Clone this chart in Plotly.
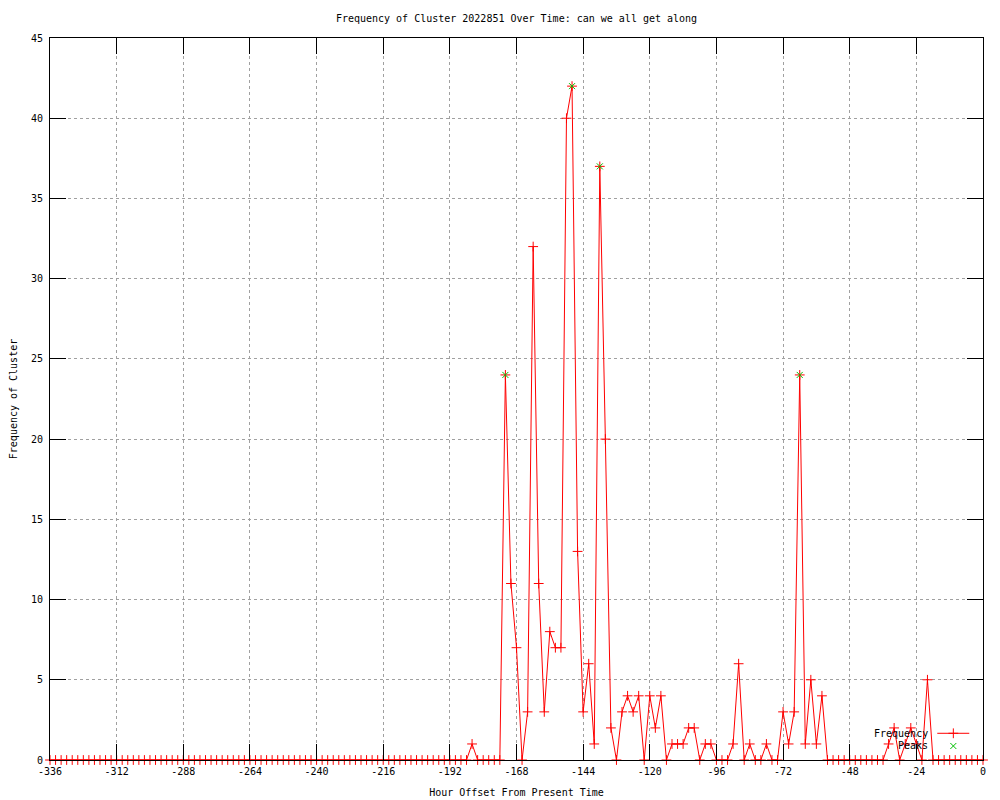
import plotly.graph_objects as go

# ---- data (hours from -336 to 0, every 2 hours) ----
hours = list(range(-336, 1, 2))
frequency = [
    0, 0, 0, 0, 0, 0, 0, 0, 0, 0, 0, 0,          # -336 .. -314
    0, 0, 0, 0, 0, 0, 0, 0, 0, 0, 0, 0,          # -312 .. -290
    0, 0, 0, 0, 0, 0, 0, 0, 0, 0, 0, 0,          # -288 .. -266
    0, 0, 0, 0, 0, 0, 0, 0, 0, 0, 0, 0,          # -264 .. -242
    0, 0, 0, 0, 0, 0, 0, 0, 0, 0, 0, 0,          # -240 .. -218
    0, 0, 0, 0, 0, 0, 0, 0, 0, 0, 0, 0,          # -216 .. -194
    0, 0, 0, 0, 1, 0, 0, 0, 0, 0, 24, 11,        # -192 .. -170
    7, 0, 3, 32, 11, 3, 8, 7, 7, 40, 42, 13,     # -168 .. -146
    3, 6, 1, 37, 20, 2, 0, 3, 4, 3, 4, 0,        # -144 .. -122
    4, 2, 4, 0, 1, 1, 1, 2, 2, 0, 1, 1,          # -120 .. -98
    0, 0, 0, 1, 6, 0, 1, 0, 0, 1, 0, 0,          # -96 .. -74
    3, 1, 3, 24, 1, 5, 1, 4, 0, 0, 0, 0,         # -72 .. -50
    0, 0, 0, 0, 0, 0, 0, 1, 2, 0, 1, 2,          # -48 .. -26
    1, 0, 5, 0, 0, 0, 0, 0, 0, 0, 0, 0,          # -24 .. -2
    0,                                           # 0
]
peak_hours = [-172, -148, -138, -66]
peak_values = [24, 42, 37, 24]

x_tickvals = [-336, -312, -288, -264, -240, -216, -192, -168, -144, -120, -96, -72, -48, -24, 0]
x_ticktext = ["-336", "-312", "-288", "-264", "-240", "-216", "-192", "-168", "-144",
              "-120", "-96", "-72", "-48", "-24", "0"]
y_tickvals = [0, 5, 10, 15, 20, 25, 30, 35, 40, 45]

title_text = "Frequency of Cluster 2022851 Over Time: can we all get along"
series_names = ["Frequency", "Peaks"]

FONT = "DejaVu Sans Mono"
RED = "#ff0000"
GREEN = "#00c000"

fig = go.Figure()

fig.add_trace(go.Scatter(
    x=hours, y=frequency, mode="lines+markers", name=series_names[0],
    line=dict(color=RED, width=1),
    marker=dict(symbol="cross-thin", size=7, line=dict(color=RED, width=1), color=RED),
    cliponaxis=False, showlegend=False,
))
fig.add_trace(go.Scatter(
    x=peak_hours, y=peak_values, mode="markers", name=series_names[1],
    marker=dict(symbol="x-thin", size=6, line=dict(color=GREEN, width=1), color=GREEN),
    cliponaxis=False, showlegend=False,
))

# ---- gnuplot-style key (text first, sample to the right), on an overlay axis ----
key_text_x = 0.9432
key_sample_x = [0.9510, 0.9853]
key_mark_x = 0.9682
key_y = [0.0370, 0.0194]

fig.add_trace(go.Scatter(
    x=key_sample_x, y=[key_y[0], key_y[0]], xaxis="x2", yaxis="y2",
    mode="lines", line=dict(color=RED, width=1), showlegend=False, hoverinfo="skip",
    cliponaxis=False,
))
fig.add_trace(go.Scatter(
    x=[key_mark_x], y=[key_y[0]], xaxis="x2", yaxis="y2", mode="markers",
    marker=dict(symbol="cross-thin", size=7, line=dict(color=RED, width=1)),
    showlegend=False, hoverinfo="skip", cliponaxis=False,
))
fig.add_trace(go.Scatter(
    x=[key_mark_x], y=[key_y[1]], xaxis="x2", yaxis="y2", mode="markers",
    marker=dict(symbol="x-thin", size=6, line=dict(color=GREEN, width=1)),
    showlegend=False, hoverinfo="skip", cliponaxis=False,
))
for name, yk in zip(series_names, key_y):
    fig.add_annotation(
        x=key_text_x, y=yk, xref="paper", yref="paper", text=name,
        showarrow=False, xanchor="right", yanchor="middle",
        font=dict(family=FONT, size=10, color="black"),
    )

axis_common = dict(
    showline=True, linecolor="black", linewidth=1, mirror="allticks",
    ticks="inside", ticklen=16, tickcolor="black", tickwidth=1,
    showgrid=True, gridcolor="#a0a0a0", griddash="dot", gridwidth=1,
    zeroline=False, tickfont=dict(family=FONT, size=10, color="black"),
    automargin=False,
)

# page body adds an 8px offset, so the figure is 992x792 with margins shifted by 8
fig.update_layout(
    width=992, height=792, autosize=False,
    margin=dict(l=42, r=17, t=30, b=40, autoexpand=False),
    paper_bgcolor="white", plot_bgcolor="white",
    font=dict(family=FONT, size=10, color="black"),
    title=dict(text=title_text, x=0.5, xref="paper", xanchor="center",
               y=1 - 10 / 792, yref="container", yanchor="middle",
               font=dict(family=FONT, size=10, color="black"),
               automargin=False),
    xaxis=dict(range=[-336, 0], tickvals=x_tickvals, ticktext=x_ticktext,
               ticklabelstandoff=2,
               title=dict(text="Hour Offset From Present Time", standoff=12,
                          font=dict(family=FONT, size=10, color="black")),
               **axis_common),
    yaxis=dict(range=[0, 45], tickvals=y_tickvals, ticklabelstandoff=4,
               title=dict(text="Frequency of Cluster", standoff=14,
                          font=dict(family=FONT, size=10, color="black")),
               **axis_common),
    xaxis2=dict(range=[0, 1], overlaying="x", visible=False),
    yaxis2=dict(range=[0, 1], overlaying="y", visible=False),
    showlegend=False,
)

fig.write_html("out.html")
